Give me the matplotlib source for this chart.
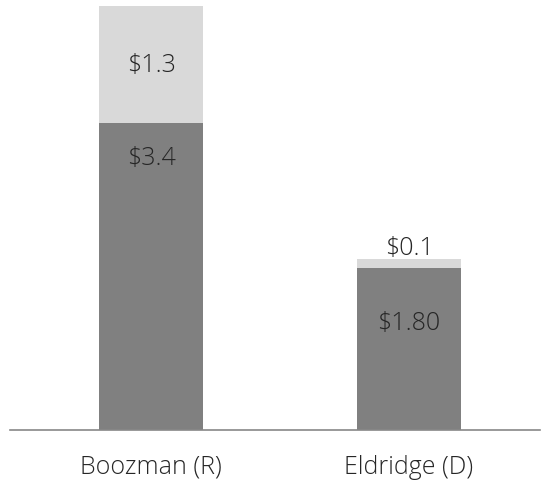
import matplotlib
matplotlib.use('Agg')
import matplotlib.pyplot as plt

# Campaign money (millions of $)
candidates = ['Boozman (R)', 'Eldridge (D)']
base_vals = [3.4, 1.80]
top_vals = [1.3, 0.1]
base_labels = ['$3.4', '$1.80']
top_labels = ['$1.3', '$0.1']

plt.rcParams['font.family'] = ['Open Sans', 'DejaVu Sans']

fig = plt.figure(figsize=(5.45, 4.85), dpi=100)
ax = fig.add_axes([10 / 545, 54 / 485, 530 / 545, 424 / 485])

x = [0, 1]
width = 0.403
dark = '#808080'
light = '#d9d9d9'
txt = '#262626'
fs = 18
fw = 'light'

ax.bar(x, base_vals, width=width, color=dark)
ax.bar(x, top_vals, width=width, bottom=base_vals, color=light)

# labels on the bars (offsets, in pixels)
base_off = [-34, -55]
for i in x:
    ax.annotate(base_labels[i], (x[i], base_vals[i]), xytext=(0, base_off[i]),
                textcoords='offset pixels', ha='center', va='center',
                fontsize=fs, color=txt, fontweight=fw)

ax.annotate(top_labels[0], (x[0], base_vals[0] + top_vals[0] / 2), ha='center', va='center',
            fontsize=fs, color=txt, fontweight=fw)
ax.annotate(top_labels[1], (x[1], base_vals[1] + top_vals[1]), xytext=(0, 11),
            textcoords='offset pixels', ha='center', va='center',
            fontsize=fs, color=txt, fontweight=fw)

ax.set_xlim(-0.5465, 1.5078)
ax.set_ylim(0, 4.7)
ax.set_xticks(x)
ax.set_xticklabels(candidates, fontsize=fs, color=txt, fontweight=fw)
ax.tick_params(axis='x', length=0, pad=17)
ax.set_yticks([])
for s in ['top', 'right', 'left']:
    ax.spines[s].set_visible(False)
ax.spines['bottom'].set_color('#888888')
ax.spines['bottom'].set_linewidth(1.2)

plt.savefig('out.png', dpi=100)
